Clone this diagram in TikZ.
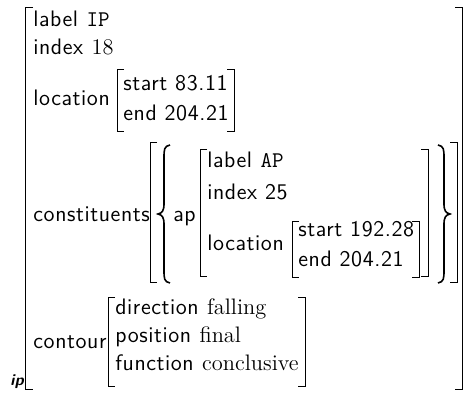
\documentclass[tikz,border=0pt]{standalone}
\usepackage{fontspec}
\setsansfont[LetterSpace=2.6]{Latin Modern Sans}

\begin{document}
\begin{tikzpicture}[x=0.5pt,y=-0.5pt]
    % Styles for feature names and bracket strokes
    \tikzstyle{feat} = [anchor=base west, inner sep=0pt, font=\fontsize{11.2}{13}\sffamily]
    \tikzstyle{brack} = [line width=0.5pt]
    \tikzstyle{curly} = [line width=0.8pt]

    \useasboundingbox (0,0) rectangle (467,400);

    % Outer structure of type ip
    \draw [brack] (33,8) -| (25,390) -- (33,390);
    \draw [brack] (455,8) -| (462,390) -- (455,390);
    \node [feat, font=\fontsize{8}{9}\sffamily\bfseries\itshape] (iptag) at (10,386) {ip};

    \node [feat] (iplabel) at (33,27) {label \texttt{IP}};
    \node [feat] (ipindex) at (33,55) {index \textrm{18}};

    % location of the ip
    \node [feat] (iploc) at (33,106) {location};
    \draw [brack] (124,70) -| (117,132) -- (124,132);
    \node [feat] (locstart) at (123,91) {start 83.11};
    \node [feat] (locend) at (123,121) {end 204.21};
    \draw [brack] (227,70) -| (234,132) -- (227,132);

    % constituents: a set holding one ap
    \node [feat] (constit) at (33,222) {constituents};
    \draw [brack] (157,143) -| (150,283) -- (157,283);
    \draw [curly] (170,145) .. controls (164,146) and (164,150) .. (164,158) -- (164,204)
        .. controls (164,211) and (162,213) .. (158,214)
        .. controls (162,215) and (164,217) .. (164,224) -- (164,270)
        .. controls (164,278) and (164,282) .. (170,283);
    \node [feat] (apkey) at (173,222) {ap};
    \draw [brack] (207,150) -| (200,277) -- (207,277);
    \node [feat] (aplabel) at (207,168) {label \texttt{AP}};
    \node [feat] (apindex) at (207,200) {index 25};
    \node [feat] (aploc) at (207,251) {location};
    \draw [brack] (299,222) -| (292,278) -- (299,278);
    \node [feat] (apstart) at (298,237) {start 192.28};
    \node [feat] (apend) at (298,267) {end 204.21};
    \draw [brack] (412,222) -| (419,278) -- (412,278);
    \draw [brack] (421,150) -| (428,277) -- (421,277);
    \draw [curly] (438,145) .. controls (444,146) and (444,150) .. (444,158) -- (444,204)
        .. controls (444,211) and (446,213) .. (450,214)
        .. controls (446,215) and (444,217) .. (444,224) -- (444,270)
        .. controls (444,278) and (444,282) .. (438,283);
    \draw [brack] (450,143) -| (457,283) -- (450,283);

    % contour
    \node [feat] (contour) at (33,349) {contour};
    \draw [brack] (115,298) -| (108,387) -- (115,387);
    \node [feat] (dir) at (115,315) {direction \textrm{falling}};
    \node [feat] (pos) at (115,343) {position \textrm{final}};
    \node [feat] (func) at (115,371) {function \textrm{conclusive}};
    \draw [brack] (298,298) -| (305,387) -- (298,387);
\end{tikzpicture}
\end{document}
